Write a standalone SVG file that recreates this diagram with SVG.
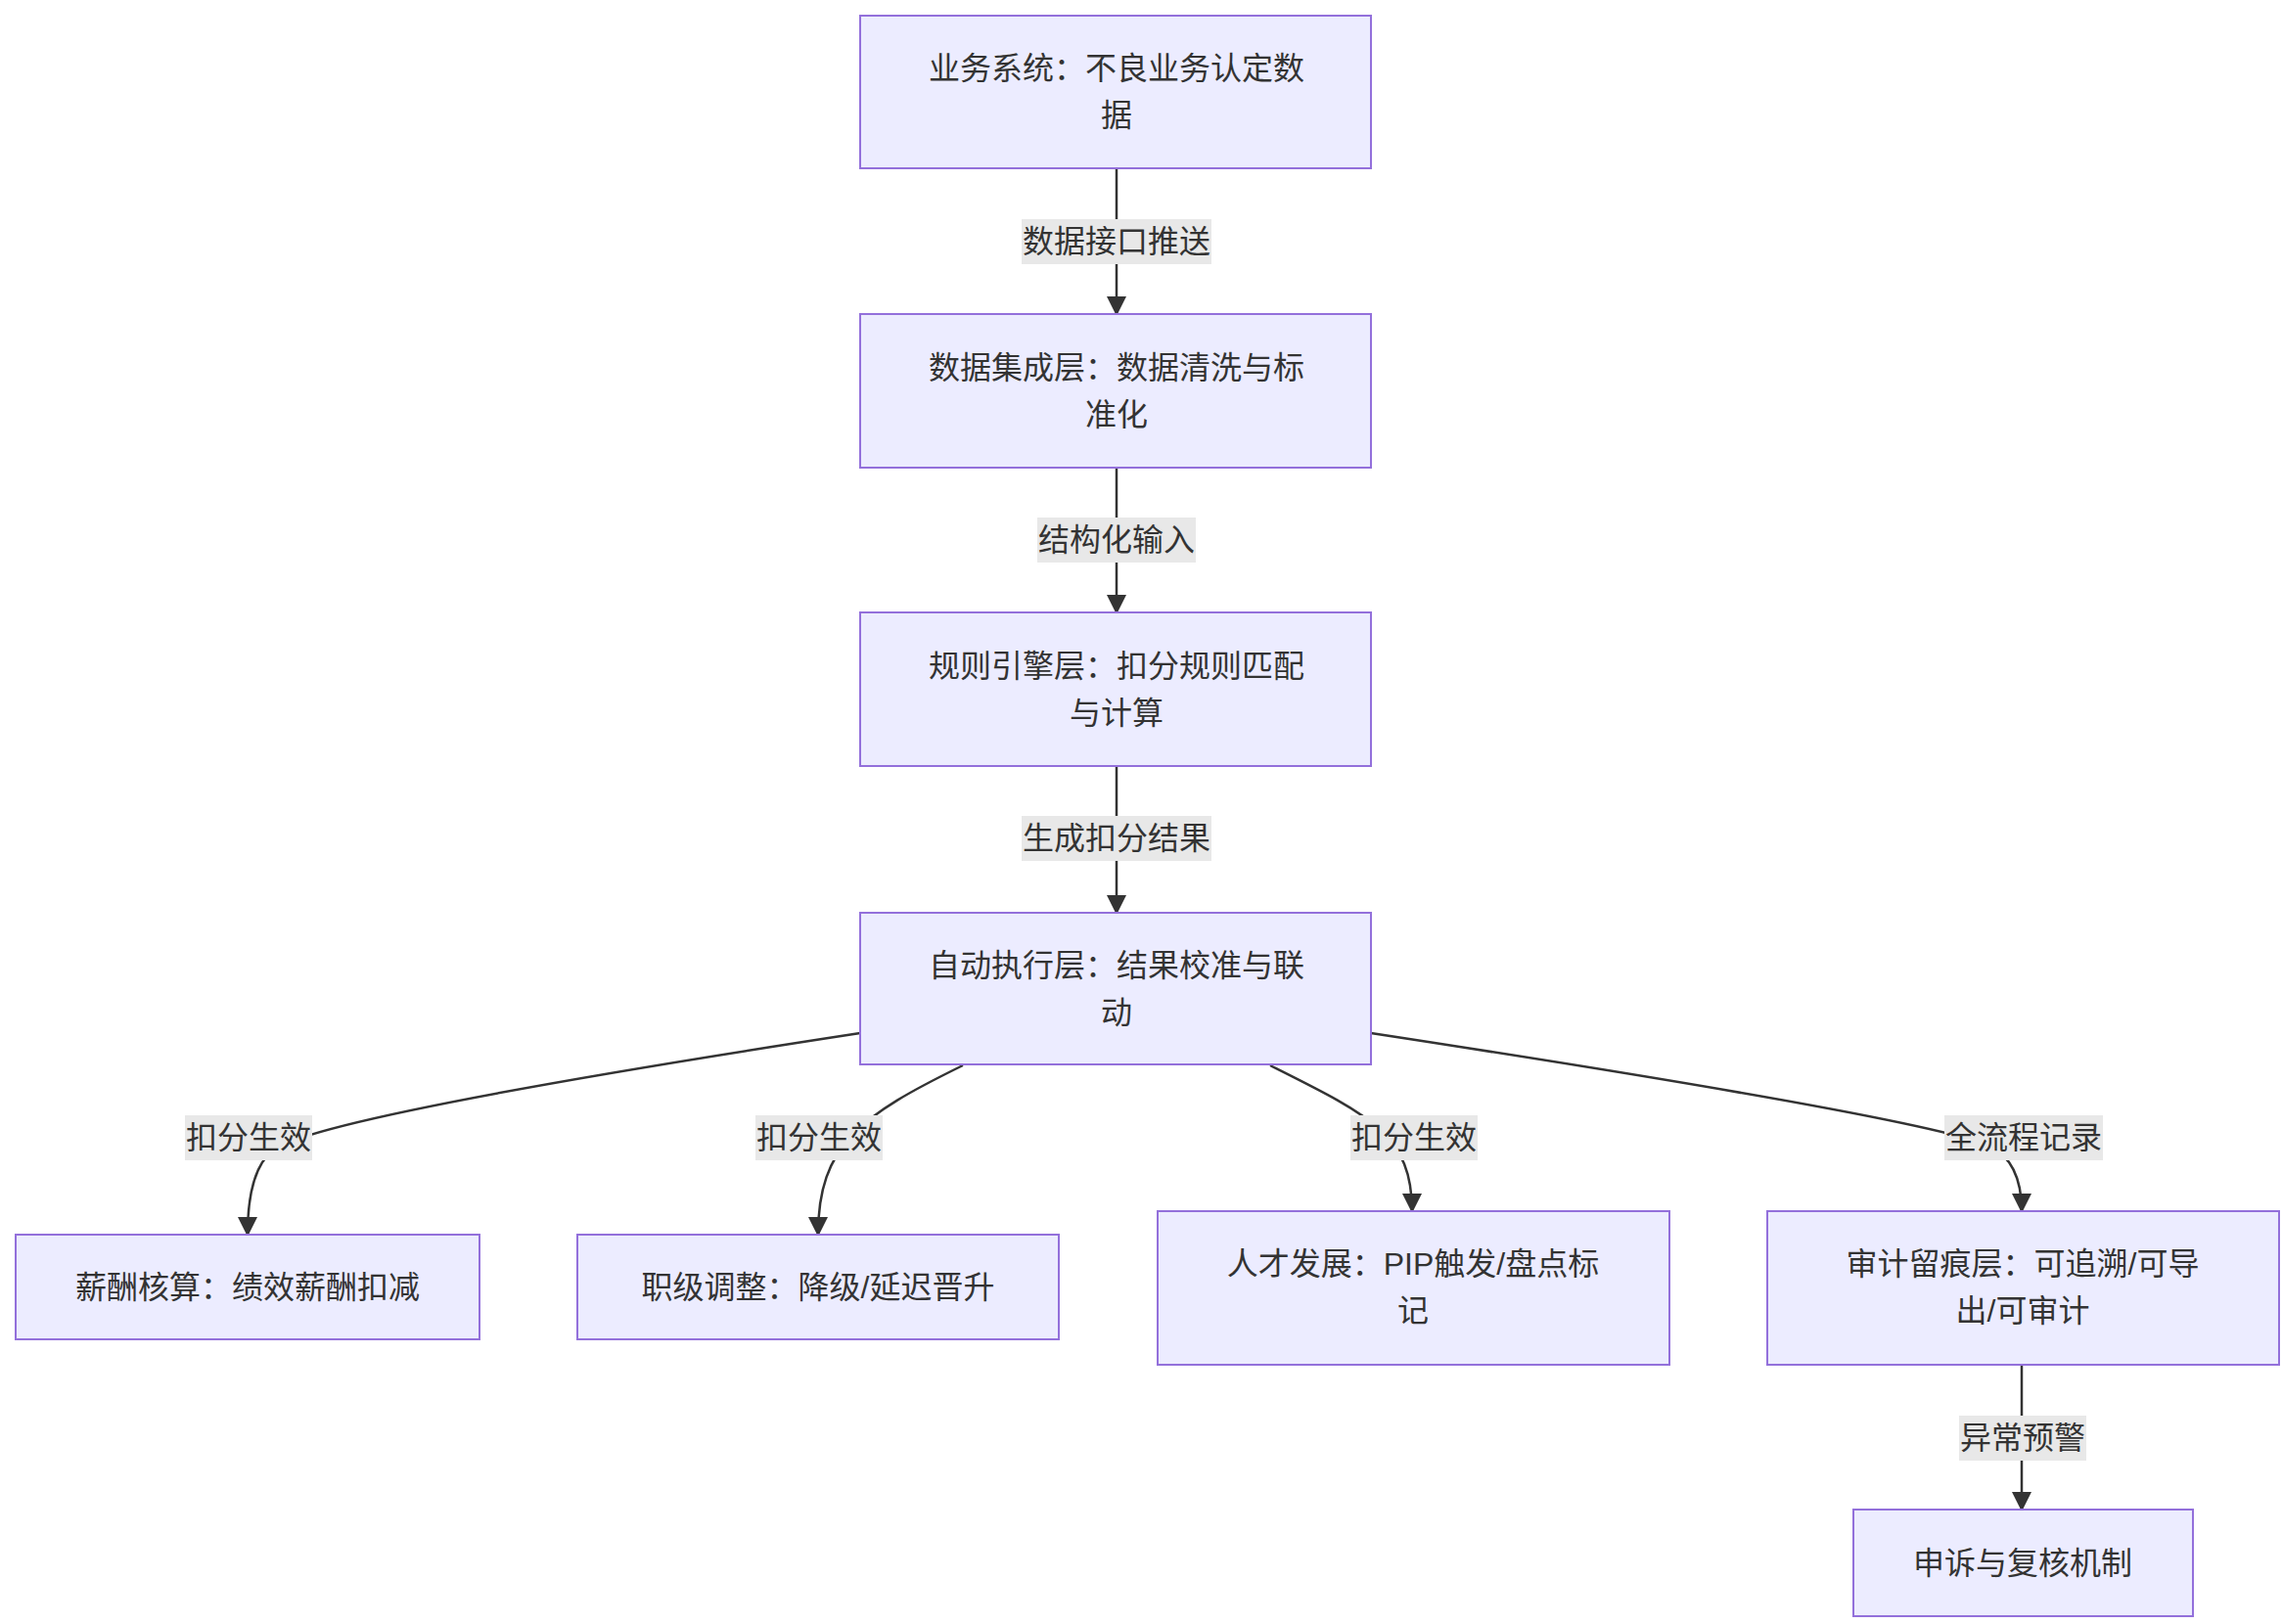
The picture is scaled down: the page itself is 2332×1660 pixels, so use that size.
<svg xmlns="http://www.w3.org/2000/svg" width="2332" height="1660" viewBox="0 0 2332 1660">
<style>
.n{fill:#ECECFF;stroke:#9370DB;stroke-width:2}
.t{font-family:"Liberation Sans","Noto Sans CJK SC",sans-serif;font-size:32px;fill:#333;text-anchor:middle;dominant-baseline:central}
.e{fill:none;stroke:#333;stroke-width:2.5}
.lb{fill:#E8E8E8}
</style>
<defs><marker id="a" viewBox="0 0 10 10" refX="9" refY="5" markerWidth="8" markerHeight="8" markerUnits="userSpaceOnUse" orient="auto"><path d="M0,0L10,5L0,10z" fill="#333"/></marker>
<marker id="m" viewBox="0 0 10 10" refX="9" refY="5" markerWidth="20" markerHeight="20" markerUnits="userSpaceOnUse" orient="auto"><path d="M0,0L10,5L0,10z" fill="#333"/></marker></defs>
<rect width="2332" height="1660" fill="#fff"/>
<g id="edges">
<path class="e" marker-end="url(#m)" d="M1141,172V321"/>
<path class="e" marker-end="url(#m)" d="M1141,478V626"/>
<path class="e" marker-end="url(#m)" d="M1141,783V933"/>
<path class="e" marker-end="url(#m)" d="M879,1056Q330,1140 280,1175Q253,1195 253,1262"/>
<path class="e" marker-end="url(#m)" d="M984,1089C880,1140 836,1170 836,1262"/>
<path class="e" marker-end="url(#m)" d="M1298,1089C1400,1140 1443,1160 1443,1238"/>
<path class="e" marker-end="url(#m)" d="M1401,1056Q1950,1140 2030,1170Q2066,1185 2066,1238"/>
<path class="e" marker-end="url(#m)" d="M2066,1395V1543"/>
<rect class="lb" x="1044" y="224" width="194" height="46"/><text class="t" x="1141" y="247">数据接口推送</text>
<rect class="lb" x="1060" y="529" width="162" height="46"/><text class="t" x="1141" y="552">结构化输入</text>
<rect class="lb" x="1044" y="834" width="194" height="46"/><text class="t" x="1141" y="857">生成扣分结果</text>
<rect class="lb" x="189" y="1140" width="130" height="46"/><text class="t" x="254" y="1163">扣分生效</text>
<rect class="lb" x="772" y="1140" width="130" height="46"/><text class="t" x="837" y="1163">扣分生效</text>
<rect class="lb" x="1380" y="1140" width="130" height="46"/><text class="t" x="1445" y="1163">扣分生效</text>
<rect class="lb" x="1987" y="1140" width="162" height="46"/><text class="t" x="2068" y="1163">全流程记录</text>
<rect class="lb" x="2002" y="1447" width="130" height="46"/><text class="t" x="2067" y="1470">异常预警</text>
</g>
<g id="n1"><rect class="n" x="879" y="16" width="522" height="156"/><text class="t" x="1141" y="70">业务系统：不良业务认定数</text><text class="t" x="1141" y="118">据</text></g>
<g id="n2"><rect class="n" x="879" y="321" width="522" height="157"/><text class="t" x="1141" y="376">数据集成层：数据清洗与标</text><text class="t" x="1141" y="424">准化</text></g>
<g id="n3"><rect class="n" x="879" y="626" width="522" height="157"/><text class="t" x="1141" y="681">规则引擎层：扣分规则匹配</text><text class="t" x="1141" y="729">与计算</text></g>
<g id="n4"><rect class="n" x="879" y="933" width="522" height="155"/><text class="t" x="1141" y="987">自动执行层：结果校准与联</text><text class="t" x="1141" y="1035">动</text></g>
<g id="n5"><rect class="n" x="16" y="1262" width="474" height="107"/><text class="t" x="253" y="1316">薪酬核算：绩效薪酬扣减</text></g>
<g id="n6"><rect class="n" x="590" y="1262" width="492" height="107"/><text class="t" x="836" y="1316">职级调整：降级/延迟晋升</text></g>
<g id="n7"><rect class="n" x="1183" y="1238" width="523" height="157"/><text class="t" x="1444" y="1292">人才发展：PIP触发/盘点标</text><text class="t" x="1444" y="1340">记</text></g>
<g id="n8"><rect class="n" x="1806" y="1238" width="523" height="157"/><text class="t" x="2067" y="1292">审计留痕层：可追溯/可导</text><text class="t" x="2067" y="1340">出/可审计</text></g>
<g id="n9"><rect class="n" x="1894" y="1543" width="347" height="109"/><text class="t" x="2067" y="1598">申诉与复核机制</text></g>
</svg>
